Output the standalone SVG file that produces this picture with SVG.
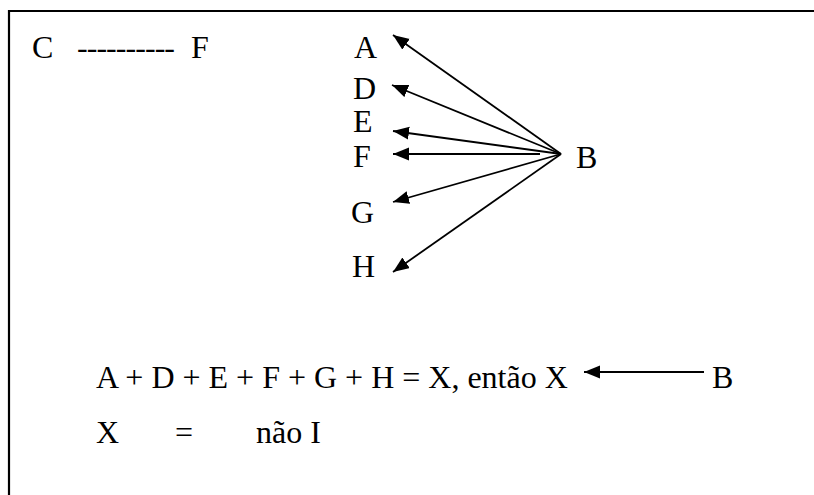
<svg xmlns="http://www.w3.org/2000/svg" width="814" height="495" viewBox="0 0 814 495">
<style>
  text { font-family: 'Liberation Serif', 'DejaVu Serif', 'Times New Roman', serif; font-size: 32px; fill: #000; }
  .conn { stroke: #000; stroke-width: 1.8; fill: none; marker-end: url(#arrow); }
  .frame { stroke: #000; stroke-width: 2.2; fill: none; }
</style>
<defs>
  <marker id="arrow" markerUnits="userSpaceOnUse" markerWidth="17" markerHeight="14" refX="16" refY="6.5" orient="auto">
    <path d="M0,0 L16,6.5 L0,13 z" fill="#000"/>
  </marker>
</defs>
<rect width="814" height="495" fill="#fff"/>
<path class="frame" d="M9,497 V11 H816"/>

<g font-family="Liberation Serif, DejaVu Serif, serif" font-size="32">
<g id="top-left">
  <text x="32" y="58">C</text>
  <text x="77" y="58" textLength="98" lengthAdjust="spacing">----------</text>
  <text x="191" y="58">F</text>
</g>

<g id="node-A"><text x="354" y="58">A</text></g>
<g id="node-D"><text x="353" y="99">D</text></g>
<g id="node-E"><text x="353" y="132">E</text></g>
<g id="node-F"><text x="353" y="167">F</text></g>
<g id="node-G"><text x="351" y="223">G</text></g>
<g id="node-H"><text x="352" y="277">H</text></g>
<g id="node-B"><text x="576" y="168">B</text></g>

<g id="equation">
  <text x="96" y="388">A + D + E + F + G + H = X, então X</text>
</g>
<g id="node-B2"><text x="712" y="388">B</text></g>
<g id="line2">
  <text x="96" y="443">X</text>
  <text x="175" y="443">=</text>
  <text x="256" y="443">não I</text>
</g>
</g>

<g id="connectors">
  <line class="conn" x1="561" y1="154" x2="393" y2="35"/>
  <line class="conn" x1="561" y1="154" x2="392" y2="85"/>
  <line class="conn" x1="561" y1="154" x2="393" y2="131"/>
  <line class="conn" x1="540" y1="154" x2="393" y2="154"/>
  <line class="conn" x1="561" y1="154" x2="393" y2="202"/>
  <line class="conn" x1="561" y1="154" x2="393" y2="272"/>
  <line class="conn" x1="704" y1="372" x2="584" y2="372"/>
</g>
</svg>
